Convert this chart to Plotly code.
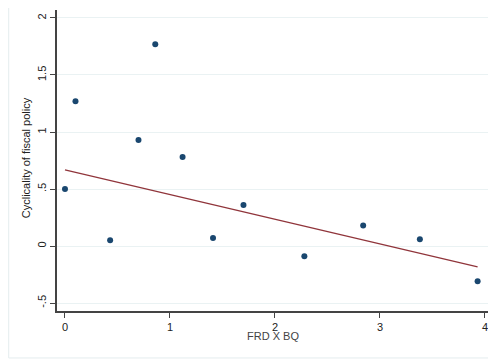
import plotly.graph_objects as go

frd_bq = [0.0, 0.10, 0.43, 0.70, 0.86, 1.12, 1.41, 1.70, 2.28, 2.84, 3.38, 3.93]
cyclicality = [0.50, 1.27, 0.05, 0.93, 1.77, 0.78, 0.07, 0.36, -0.09, 0.18, 0.06, -0.31]
fit_x = [0.0, 3.93]
fit_y = [0.667, -0.184]

y_tickvals = [-0.5, 0, 0.5, 1, 1.5, 2]
y_ticktext = ["-.5", "0", ".5", "1", "1.5", "2"]
x_tickvals = [0, 1, 2, 3, 4]
x_ticktext = ["0", "1", "2", "3", "4"]

fig = go.Figure()
fig.add_trace(go.Scatter(x=frd_bq, y=cyclicality, mode="markers",
                         marker=dict(color="#1a476f", size=6, symbol="circle"),
                         showlegend=False, cliponaxis=False))
fig.add_trace(go.Scatter(x=fit_x, y=fit_y, mode="lines",
                         line=dict(color="#90353b", width=1.3),
                         showlegend=False))

font = dict(family="Liberation Sans, Arial, sans-serif", size=11, color="#222222")
fig.update_layout(
    width=488, height=356,
    margin=dict(l=49, r=4, t=2, b=53),
    paper_bgcolor="white", plot_bgcolor="white",
    font=font,
    xaxis=dict(range=[-0.076, 4.067], tickvals=x_tickvals, ticktext=x_ticktext,
               showgrid=False, zeroline=False, showline=True, linecolor="#444444",
               linewidth=1.5, ticks="outside", ticklen=5, tickcolor="#444444"),
    yaxis=dict(range=[-0.570, 2.070], tickvals=y_tickvals, ticktext=y_ticktext,
               tickangle=-90, showgrid=True, gridcolor="#eaf2f3", gridwidth=1,
               zeroline=False, showline=True, linecolor="#444444", linewidth=1.5,
               ticks="outside", ticklen=5, tickcolor="#444444"),
    annotations=[
        dict(text="FRD X BQ", xref="paper", yref="paper", x=0.497, y=-0.083,
             xanchor="center", yanchor="middle", showarrow=False,
             font=dict(size=11, color="#444444")),
        dict(text="Cyclicality of fiscal policy", xref="paper", yref="paper",
             x=-0.071, y=0.508, textangle=-90, xanchor="center", yanchor="middle",
             showarrow=False, font=dict(size=11, color="#222222")),
    ],
    shapes=[dict(type="rect", xref="paper", yref="paper",
                 x0=-0.111, x1=1.2, y0=-0.156, y1=1.2,
                 line=dict(color="#e4ecee", width=1), layer="below")],
)

fig.write_html("out.html")
